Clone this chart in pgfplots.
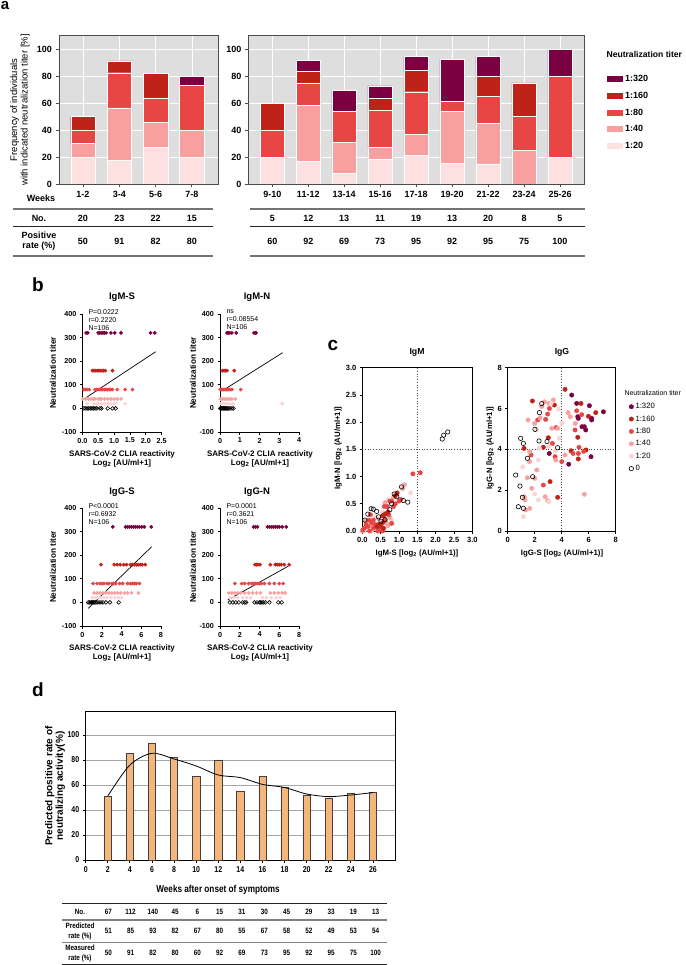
\documentclass[border=0pt]{standalone}
\usepackage{fontspec}
\setmainfont{Liberation Sans}
\newfontfamily\narrowfont[FakeStretch=0.82]{Liberation Sans}
\usepackage{pgfplots}
\pgfplotsset{compat=1.18}
\definecolor{cA}{HTML}{7B0041}
\definecolor{cB}{HTML}{BE2219}
\definecolor{cC}{HTML}{E84545}
\definecolor{cD}{HTML}{F8A0A0}
\definecolor{cE}{HTML}{FDE0E0}
\definecolor{bgA}{HTML}{DEDEDE}
\definecolor{orD}{HTML}{F4B67A}
\newcommand\fs[1]{\fontsize{#1}{#1}\selectfont}
\pgfplotsset{
 astyle/.style={scale only axis, anchor=south west, height=149pt, ymin=0, ymax=110.6, ytick={0,20,40,60,80,100},
   axis background/.style={fill=bgA}, grid=major, major grid style={white, line width=0.6pt},
   axis line style={black!70, line width=0.9pt}, tick align=outside, tick pos=left, major tick length=3.5pt,
   tick style={black!70, line width=0.8pt}, ybar stacked, bar width=24.5pt,
   /pgf/number format/assume math mode=true, tick label style={font=\fs{9}\bfseries}},
 bstyle/.style={scale only axis, anchor=south west, height=118pt, ymin=-100, ymax=400, ytick={-100,0,100,200,300,400},
   axis x line*=bottom, axis y line*=left, axis line style={black, line width=0.9pt, -},
   tick align=outside, major tick length=2.5pt, tick style={black, line width=0.8pt},
   /pgf/number format/assume math mode=true, tick label style={font=\fs{7.2}\bfseries}, clip=false},
 cstyle/.style={scale only axis, anchor=south west, height=163.3pt, ymin=0,
   axis line style={black, line width=0.9pt}, tick align=outside, tick pos=left, major tick length=2.5pt,
   tick style={black, line width=0.8pt},
   /pgf/number format/assume math mode=true, tick label style={font=\fs{7.5}\bfseries}, clip=false},
 m320/.style={only marks, mark=*, mark size=#1, color=cA},
 m160/.style={only marks, mark=*, mark size=#1, color=cB},
 m80/.style={only marks, mark=*, mark size=#1, color=cC},
 m40/.style={only marks, mark=*, mark size=#1, color=cD},
 m20/.style={only marks, mark=*, mark size=#1, color=cE!80!cD},
 m0/.style={only marks, mark=o, mark size=#1, black, mark options={line width=0.6pt}},
}
\begin{document}
\begin{tikzpicture}
\useasboundingbox (0,0) rectangle (685pt,-965pt);
% ================= panel a =================
\node[font=\fs{15}\bfseries] at (5pt,-6pt) {a};
\node[rotate=90, align=center, font=\fs{9.5}] at (20pt,-110pt) {Frequency of individuals\\[1pt]with indicated neutralization titer [\%]};
\begin{axis}[astyle, at={(59pt,-184pt)}, width=159pt, xmin=-0.66, xmax=3.72,
  xtick={0,1,2,3}, xticklabels={1-2,3-4,5-6,7-8}]
\addplot[fill=cE, draw=white, line width=0.4pt] coordinates {(0,20)(1,17.4)(2,27.3)(3,20)};
\addplot[fill=cD, draw=white, line width=0.4pt] coordinates {(0,10)(1,39.1)(2,18.2)(3,20)};
\addplot[fill=cC, draw=white, line width=0.4pt] coordinates {(0,10)(1,26.1)(2,18.2)(3,33.3)};
\addplot[fill=cB, draw=white, line width=0.4pt] coordinates {(0,10)(1,8.7)(2,18.2)(3,0)};
\addplot[fill=cA, draw=white, line width=0.4pt] coordinates {(0,0)(1,0)(2,0)(3,6.7)};
\end{axis}
\begin{axis}[astyle, at={(248.3pt,-184pt)}, width=335.7pt, xmin=-0.667, xmax=8.667,
  xtick={0,...,8}, xticklabels={9-10,11-12,13-14,15-16,17-18,19-20,21-22,23-24,25-26},
  legend style={at={(1.0596,0.758)}, anchor=north west, draw=none, fill=none, font=\fs{9}\bfseries, row sep=5pt},
  legend cell align=left, reverse legend,
  legend image code/.code={\draw[#1, draw=none] (0pt,-3pt) rectangle (16pt,3pt);}]
\addplot[fill=cE, draw=white, line width=0.4pt] coordinates {(0,20)(1,16.7)(2,7.7)(3,18.2)(4,21.1)(5,15.4)(6,15)(7,0)(8,20)};
\addplot[fill=cD, draw=white, line width=0.4pt] coordinates {(0,0)(1,41.7)(2,23.1)(3,9.1)(4,15.8)(5,38.5)(6,30)(7,25)(8,0)};
\addplot[fill=cC, draw=white, line width=0.4pt] coordinates {(0,20)(1,16.7)(2,23.1)(3,27.3)(4,31.6)(5,7.7)(6,20)(7,25)(8,60)};
\addplot[fill=cB, draw=white, line width=0.4pt] coordinates {(0,20)(1,8.3)(2,0)(3,9.1)(4,15.8)(5,0)(6,15)(7,25)(8,0)};
\addplot[fill=cA, draw=white, line width=0.4pt] coordinates {(0,0)(1,8.3)(2,15.4)(3,9.1)(4,10.5)(5,30.8)(6,15)(7,0)(8,20)};
\legend{1:20,1:40,1:80,1:160,1:320}
\end{axis}
\node[anchor=west, font=\fs{8.6}\bfseries] at (603pt,-54pt) {Neutralization titer};
% table a
\node[font=\fs{9}\bfseries] at (41pt,-198pt) {Weeks};
\draw[black!55, line width=1.1pt] (13pt,-209pt) -- (213pt,-209pt);
\draw[black!55, line width=1.1pt] (250pt,-209pt) -- (585pt,-209pt);
\draw[black!85, line width=0.8pt] (13pt,-226pt) -- (213pt,-226pt);
\draw[black!85, line width=0.8pt] (250pt,-226pt) -- (585pt,-226pt);
\draw[black!55, line width=1.1pt] (13pt,-256pt) -- (213pt,-256pt);
\draw[black!55, line width=1.1pt] (250pt,-256pt) -- (585pt,-256pt);
\node[font=\fs{9}\bfseries] at (39pt,-218pt) {No.};
\node[font=\fs{9}\bfseries, align=center] at (39pt,-241pt) {Positive\\[1pt]rate (\%)};
\foreach \v [count=\i from 0, evaluate=\i as \xx using 83+36.3*\i] in {20,23,22,15}
  \node[font=\fs{9}\bfseries] at (\xx pt,-218pt) {\v};
\foreach \v [count=\i from 0, evaluate=\i as \xx using 83+36.3*\i] in {50,91,82,80}
  \node[font=\fs{9}\bfseries] at (\xx pt,-241pt) {\v};
\foreach \v [count=\i from 0, evaluate=\i as \xx using 272.3+35.96*\i] in {5,12,13,11,19,13,20,8,5}
  \node[font=\fs{9}\bfseries] at (\xx pt,-218pt) {\v};
\foreach \v [count=\i from 0, evaluate=\i as \xx using 272.3+35.96*\i] in {60,92,69,73,95,92,95,75,100}
  \node[font=\fs{9}\bfseries] at (\xx pt,-241pt) {\v};
% ================= panel b =================
\node[font=\fs{19}\bfseries] at (38pt,-285pt) {b};
\foreach \tx/\ty/\tt in {122/297/IgM-S, 257/297/IgM-N, 122/492/IgG-S, 257/492/IgG-N}
  \node[font=\fs{9.5}\bfseries] at (\tx pt,-\ty pt) {\tt};
\foreach \tx/\ty in {53/373, 193/373, 53/567, 193/567}
  \node[rotate=90, font=\fs{8.2}\bfseries] at (\tx pt,-\ty pt) {Neutralization titer};
\foreach \tx/\ty in {122/459, 260/459, 122/653, 260/653}
  \node[align=center, font=\fs{8}\bfseries] at (\tx pt,-\ty pt) {SARS-CoV-2 CLIA reactivity\\[1pt]Log\textsubscript{2} [AU/ml+1]};
\node[anchor=north west, align=left, font=\fs{7}] at (85pt,-306pt) {P=0.0222\\[1pt]r=0.2220\\[1pt]N=106};
\node[anchor=north west, align=left, font=\fs{7}] at (223pt,-306pt) {ns\\[1pt]r=0.08554\\[1pt]N=106};
\node[anchor=north west, align=left, font=\fs{7}] at (85pt,-500pt) {P<0.0001\\[1pt]r=0.6932\\[1pt]N=106};
\node[anchor=north west, align=left, font=\fs{7}] at (223pt,-500pt) {P=0.0001\\[1pt]r=0.3621\\[1pt]N=106};
% IgM-S
\begin{axis}[bstyle, at={(82.3pt,-432pt)}, width=79.4pt, xmin=0, xmax=2.5, xtick={0,0.5,1,1.5,2,2.5},
  xticklabel style={/pgf/number format/.cd,fixed,fixed zerofill,precision=1}]
\addplot[m0=1.9pt] coordinates {(0.05,0)(0.1,0)(0.15,0)(0.2,0)(0.25,0)(0.3,0)(0.35,0)(0.4,0)(0.45,0)(0.55,0)(0.6,0)(0.8,0)(0.95,0)(1.05,0)};
\addplot[m20=1.7pt] coordinates {(0.15,20)(0.35,20)(0.45,20)(0.5,20)(0.6,20)(0.7,20)(0.8,20)(0.9,20)(1.0,20)(1.05,20)(1.35,20)};
\addplot[m40=1.7pt] coordinates {(0.02,40)(0.12,40)(0.2,40)(0.28,40)(0.35,40)(0.4,40)(0.5,40)(0.55,40)(0.6,40)(0.7,40)(0.8,40)(0.9,40)(1.0,40)(1.1,40)(1.22,40)};
\addplot[m80=1.7pt] coordinates {(0.05,80)(0.1,80)(0.15,80)(0.22,80)(0.4,80)(0.45,80)(0.5,80)(0.55,80)(0.6,80)(0.65,80)(0.7,80)(0.75,80)(0.8,80)(0.85,80)(0.9,80)(0.95,80)(1.1,80)(1.35,80)(1.58,80)};
\addplot[m160=1.7pt] coordinates {(0.32,160)(0.37,160)(0.42,160)(0.47,160)(0.52,160)(0.57,160)(0.62,160)(0.67,160)(0.72,160)(0.95,160)};
\addplot[m320=1.7pt] coordinates {(0.12,320)(0.17,320)(0.5,320)(0.55,320)(0.6,320)(0.65,320)(0.7,320)(0.75,320)(0.9,320)(1.02,320)(1.22,320)(2.15,320)(2.28,320)};
\addplot[black, line width=0.7pt] coordinates {(0,35)(2.31,240)};
\end{axis}
% IgM-N
\begin{axis}[bstyle, at={(220pt,-432pt)}, width=79pt, xmin=0, xmax=4, xtick={0,1,2,3,4}]
\addplot[m0=1.9pt] coordinates {(0.02,0)(0.07,0)(0.12,0)(0.17,0)(0.22,0)(0.27,0)(0.32,0)(0.37,0)(0.42,0)(0.5,0)(0.6,0)(0.68,0)};
\addplot[m20=1.7pt] coordinates {(0.05,20)(0.15,20)(0.25,20)(0.35,20)(0.5,20)(0.65,20)(3.15,20)};
\addplot[m40=1.7pt] coordinates {(0.02,40)(0.1,40)(0.2,40)(0.3,40)(0.4,40)(0.5,40)(0.6,40)(0.78,40)};
\addplot[m80=1.7pt] coordinates {(0.02,80)(0.08,80)(0.14,80)(0.2,80)(0.26,80)(0.32,80)(0.4,80)(0.5,80)(0.6,80)(1.05,80)};
\addplot[m160=1.7pt] coordinates {(0.12,160)(0.2,160)(0.28,160)(0.35,160)(0.72,160)};
\addplot[m320=1.7pt] coordinates {(0.35,320)(0.42,320)(0.5,320)(0.6,320)(0.82,320)(1.72,320)(1.78,320)(1.82,320)};
\addplot[black, line width=0.7pt] coordinates {(0.22,80)(3.17,236)};
\end{axis}
% IgG-S
\begin{axis}[bstyle, at={(82.3pt,-626pt)}, width=78.7pt, xmin=0, xmax=8, xtick={0,2,4,6,8}]
\addplot[m0=1.9pt] coordinates {(0.6,0)(0.75,0)(0.9,0)(1.0,0)(1.1,0)(1.2,0)(1.35,0)(1.5,0)(1.7,0)(1.9,0)(2.1,0)(2.4,0)(2.8,0)(3.7,0)};
\addplot[m20=1.7pt] coordinates {(1.0,20)(1.3,20)(1.6,20)(1.9,20)(2.2,20)(2.5,20)(2.9,20)(3.3,20)(3.7,20)(4.0,20)};
\addplot[m40=1.7pt] coordinates {(1.2,40)(1.5,40)(1.8,40)(2.1,40)(2.4,40)(2.7,40)(3.0,40)(3.3,40)(3.6,40)(3.9,40)(4.3,40)(4.6,40)(5.0,40)(5.7,40)};
\addplot[m80=1.7pt] coordinates {(1.1,80)(1.5,80)(1.8,80)(2.0,80)(2.2,80)(2.5,80)(2.7,80)(3.0,80)(3.2,80)(3.4,80)(3.8,80)(4.1,80)(4.6,80)(4.9,80)(5.1,80)(5.3,80)(5.5,80)(5.8,80)};
\addplot[m160=1.7pt] coordinates {(1.9,160)(3.25,160)(3.55,160)(3.85,160)(4.2,160)(4.5,160)(4.9,160)(5.1,160)(5.3,160)(5.5,160)(5.7,160)(5.9,160)(6.1,160)(6.4,160)};
\addplot[m320=1.7pt] coordinates {(3.1,320)(4.4,320)(4.6,320)(4.8,320)(5.0,320)(5.2,320)(5.4,320)(5.6,320)(5.8,320)(6.05,320)(6.3,320)(7.0,320)};
\addplot[black, line width=0.7pt] coordinates {(0.61,-25)(7.05,236)};
\end{axis}
% IgG-N
\begin{axis}[bstyle, at={(220pt,-626pt)}, width=79pt, xmin=0, xmax=8, xtick={0,2,4,6,8}]
\addplot[m0=1.9pt] coordinates {(1.0,0)(1.3,0)(1.6,0)(1.9,0)(2.3,0)(2.5,0)(2.65,0)(3.5,0)(3.75,0)(4.0,0)(4.1,0)(4.25,0)(4.4,0)(4.6,0)(5.0,0)(5.9,0)(6.25,0)};
\addplot[m20=1.7pt] coordinates {(1.0,20)(1.4,20)(1.8,20)(2.3,20)(2.7,20)(3.1,20)(4.3,20)(4.7,20)(5.2,20)(5.7,20)(6.1,20)};
\addplot[m40=1.7pt] coordinates {(0.9,40)(1.2,40)(1.5,40)(1.8,40)(2.1,40)(2.5,40)(2.9,40)(3.3,40)(3.7,40)(4.1,40)(5.1,40)(5.5,40)(5.9,40)(6.3,40)(6.6,40)};
\addplot[m80=1.7pt] coordinates {(1.5,80)(2.2,80)(2.5,80)(2.9,80)(3.2,80)(3.4,80)(3.6,80)(3.8,80)(4.0,80)(4.2,80)(4.5,80)(5.0,80)(5.5,80)(6.0,80)(6.4,80)};
\addplot[m160=1.7pt] coordinates {(3.55,160)(3.7,160)(3.85,160)(4.05,160)(5.1,160)(5.6,160)(5.8,160)(6.0,160)(6.2,160)(6.5,160)(7.0,160)};
\addplot[m320=1.7pt] coordinates {(3.4,320)(3.6,320)(3.8,320)(4.8,320)(5.0,320)(5.2,320)(5.4,320)(5.6,320)(5.8,320)(6.0,320)(6.3,320)(6.7,320)};
\addplot[black, line width=0.7pt] coordinates {(0.78,10)(6.93,154)};
\end{axis}
% ================= panel c =================
\node[font=\fs{19}\bfseries] at (333pt,-345pt) {c};
\node[font=\fs{8.7}\bfseries] at (417pt,-352pt) {IgM};
\node[font=\fs{8.7}\bfseries] at (562pt,-352pt) {IgG};
\node[font=\fs{7.8}\bfseries] at (417pt,-553pt) {IgM-S [log\textsubscript{2} (AU/ml+1)]};
\node[font=\fs{7.8}\bfseries] at (562pt,-553pt) {IgG-S [log\textsubscript{2} (AU/ml+1)]};
\node[rotate=90, font=\fs{7.8}\bfseries] at (338pt,-448pt) {IgM-N [log\textsubscript{2} (AU/ml+1)]};
\node[rotate=90, font=\fs{7.8}\bfseries] at (490pt,-448pt) {IgG-N [log\textsubscript{2} (AU/ml+1)]};
\begin{axis}[cstyle, at={(362.3pt,-531pt)}, width=110pt, xmin=0, xmax=3, ymax=3,
  xtick={0,0.5,1,1.5,2,2.5,3}, ytick={0,0.5,1,1.5,2,2.5,3},
  ticklabel style={/pgf/number format/.cd,fixed,fixed zerofill,precision=1}]
\addplot[black!70, dotted, line width=0.7pt] coordinates {(1.5,0)(1.5,3)};
\addplot[black!70, dotted, line width=0.7pt] coordinates {(0,1.5)(3,1.5)};
\addplot[m20=2.2pt] coordinates {(0.05,0.0)(0.35,0.25)(0.7,0.57)(0.8,0.2)(1.32,0.7)(0.25,0.0)(0.55,0.35)};
\addplot[m40=2.2pt] coordinates {(0.0,0.0)(0.1,0.18)(0.2,0.1)(0.3,0.1)(0.45,0.22)(0.62,0.52)(0.7,0.1)(0.75,0.25)(0.85,0.62)(1.1,0.78)(1.15,0.85)(0.5,0.05)(0.65,0.15)};
\addplot[m80=2.2pt] coordinates {(0.02,0.02)(0.05,0.05)(0.1,0.12)(0.15,0.08)(0.18,0.2)(0.2,0.0)(0.25,0.15)(0.3,0.05)(0.35,0.12)(0.42,0.0)(0.48,0.02)(0.55,0.0)(0.62,0.2)(0.68,0.45)(0.72,0.3)(0.75,0.55)(0.8,0.55)(0.85,0.45)(0.9,0.5)(1.0,0.55)(1.05,0.58)(1.38,1.05)(1.58,1.07)(0.6,0.45)(0.22,0.3)(0.3,0.2)(0.8,0.14)};
\addplot[m160=2.2pt] coordinates {(0.45,0.12)(0.5,0.1)(0.55,0.15)(0.6,0.3)(0.65,0.32)(0.7,0.35)(0.9,0.65)(0.95,0.7)(0.55,0.28)(0.4,0.08)(0.58,0.05)};
\addplot[m0=2.2pt] coordinates {(0.07,0.2)(0.15,0.31)(0.24,0.41)(0.3,0.4)(0.39,0.36)(0.44,0.26)(0.51,0.18)(0.62,0.21)(0.75,0.39)(0.8,0.5)(0.87,0.68)(0.94,0.63)(1.07,0.81)(1.12,0.56)(1.24,0.53)(2.18,1.69)(2.22,1.76)(2.33,1.82)};
\end{axis}
\begin{axis}[cstyle, at={(507.7pt,-531pt)}, width=108pt, xmin=0, xmax=8, ymax=8,
  xtick={0,2,4,6,8}, ytick={0,2,4,6,8},
  legend style={at={(1.095,0.808)}, anchor=north west, draw=none, fill=none, font=\fs{7.7}, row sep=1.5pt},
  legend cell align=left]
\addplot[m320=2.2pt] coordinates {(4.74,6.66)(5.11,6.25)(5.19,5.6)(5.23,5.52)(5.5,5.11)(5.68,5.11)(5.78,4.95)(6.05,6.14)(6.22,5.44)(6.22,5.52)(6.17,3.64)(7.09,5.84)(4.52,3.27)(3.08,3.8)};
\addplot[m160=2.2pt] coordinates {(4.25,6.94)(3.46,6.17)(1.83,6.37)(5.43,6.25)(5.98,5.62)(6.52,5.8)(5.19,4.59)(5.8,3.97)(4.69,3.93)(3.01,4.57)(2.64,4.1)(1.21,4.05)(3.14,2.42)(3.7,1.65)(5.23,3.53)};
\addplot[m80=2.2pt] coordinates {(3.09,6.0)(2.96,5.73)(2.81,5.47)(2.22,5.44)(5.11,5.89)(5.48,5.7)(4.99,4.95)(5.28,4.1)(5.63,3.9)(5.23,3.8)(4.84,3.8)(4.0,3.4)(3.59,5.07)(3.31,4.29)(3.51,3.64)(1.73,3.72)(2.64,2.25)};
\addplot[m40=2.2pt] coordinates {(2.4,5.55)(2.72,6.33)(2.52,6.1)(1.51,5.44)(2.0,5.27)(1.63,3.89)(1.63,3.4)(2.15,2.99)(2.0,2.58)(1.46,2.61)(1.78,2.09)(1.23,1.68)(1.28,1.52)(1.33,1.03)(1.63,1.11)(2.77,1.68)(2.96,1.49)(3.56,3.48)(4.47,5.8)(4.64,5.6)(5.01,5.27)(4.25,3.72)(5.68,1.8)(3.7,5.03)(3.26,5.03)(3.38,6.42)(3.04,6.25)};
\addplot[m20=2.2pt] coordinates {(2.15,4.95)(2.35,4.05)(3.04,4.13)(3.78,5.97)(3.83,4.54)(4.0,5.27)(1.11,3.14)(2.0,1.81)(1.16,0.7)(2.27,1.52)(3.04,1.44)(3.21,6.25)(3.51,3.93)(2.27,3.48)};
\addplot[m0=2.2pt] coordinates {(0.59,2.74)(0.96,4.54)(1.16,4.29)(1.46,3.56)(2.02,4.98)(2.35,5.8)(2.52,6.24)(2.32,4.41)(2.91,4.38)(3.7,4.08)(1.85,2.66)(0.91,2.2)(1.09,1.65)(0.79,1.19)(1.16,1.11)};
\addplot[black!70, dotted, line width=0.7pt, forget plot] coordinates {(4,0)(4,8)};
\addplot[black!70, dotted, line width=0.7pt, forget plot] coordinates {(0,4)(8,4)};
\legend{1:320,1:160,1:80,1:40,1:20,0}
\end{axis}
\node[anchor=west, font=\fs{7}] at (621pt,-393pt) {Neutralization titer};
% ================= panel d =================
\node[font=\fs{19}\bfseries] at (38pt,-690pt) {d};
\node[rotate=90, align=center, font=\fontsize{10}{10.5}\selectfont\bfseries] at (55pt,-786pt) {Predicted positive rate of\\neutralizing activity(\%)};
\node[font=\fs{10}\narrowfont\bfseries] at (218pt,-890pt) {Weeks after onset of symptoms};
\begin{axis}[scale only axis, anchor=south west, at={(85.7pt,-860pt)}, width=309.3pt, height=148.3pt,
  xmin=0, xmax=28, ymin=0, ymax=118.6, xtick={0,2,...,26}, ytick={0,20,40,60,80,100},
  ymajorgrids, major grid style={black!35, line width=0.6pt},
  axis line style={black, line width=0.9pt}, tick align=outside, tick pos=left, major tick length=3pt,
  tick style={black, line width=0.8pt}, /pgf/number format/assume math mode=true,
  tick label style={font=\fs{8.5}\narrowfont\bfseries}]
\addplot[ybar, bar width=7.3pt, fill=orD, draw=black!75, line width=0.5pt] coordinates {(2,51)(4,85)(6,93)(8,82)(10,67)(12,80)(14,55)(16,67)(18,58)(20,52)(22,49)(24,53)(26,54)};
\addplot[black, line width=0.8pt, smooth, mark=none] coordinates {(2,51.2)(4,76)(6,85.3)(8,80.8)(10,75.2)(12,68)(14,65.9)(16,60.5)(18,58)(20,52.8)(22,50.7)(24,52)(26,53.9)};
\end{axis}
% table d
\draw[black!85, line width=0.8pt] (62pt,-903pt) -- (387pt,-903pt);
\draw[black!50, line width=1.6pt] (62pt,-920pt) -- (387pt,-920pt);
\draw[black!50, line width=1pt] (62pt,-942pt) -- (387pt,-942pt);
\draw[black!85, line width=0.8pt] (62pt,-964pt) -- (387pt,-964pt);
\node[font=\fs{7.7}\narrowfont\bfseries] at (80pt,-912pt) {No.};
\node[align=center, font=\fontsize{7.7}{10}\selectfont\narrowfont\bfseries] at (80pt,-931pt) {Predicted\\rate (\%)};
\node[align=center, font=\fontsize{7.7}{10}\selectfont\narrowfont\bfseries] at (80pt,-953pt) {Measured\\rate (\%)};
\foreach \v [count=\i from 0, evaluate=\i as \xx using 108.3+22.28*\i] in {67,112,140,45,6,15,31,30,45,29,33,19,13}
  \node[font=\fs{7.7}\narrowfont\bfseries] at (\xx pt,-912pt) {\v};
\foreach \v [count=\i from 0, evaluate=\i as \xx using 108.3+22.28*\i] in {51,85,93,82,67,80,55,67,58,52,49,53,54}
  \node[font=\fs{7.7}\narrowfont\bfseries] at (\xx pt,-931pt) {\v};
\foreach \v [count=\i from 0, evaluate=\i as \xx using 108.3+22.28*\i] in {50,91,82,80,60,92,69,73,95,92,95,75,100}
  \node[font=\fs{7.7}\narrowfont\bfseries] at (\xx pt,-953pt) {\v};
\end{tikzpicture}
\end{document}
